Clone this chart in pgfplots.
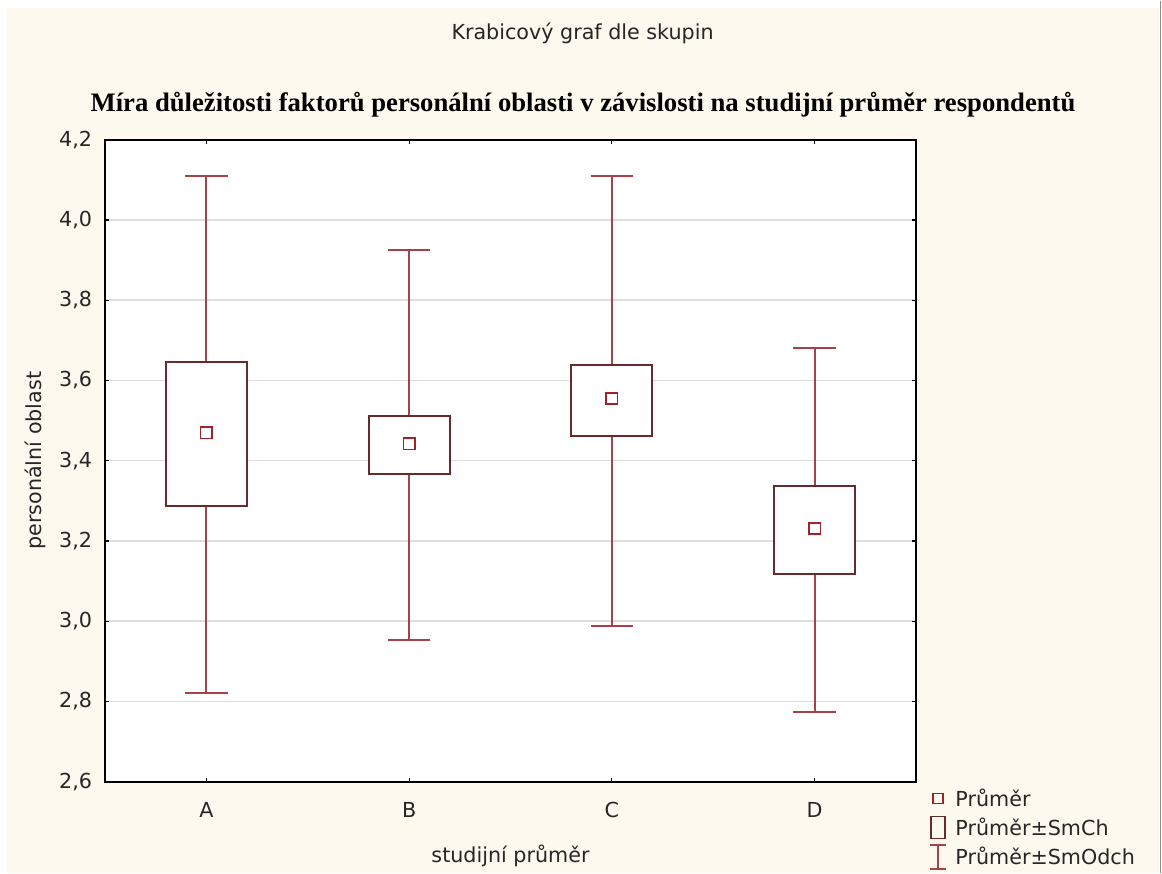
\documentclass[border=0pt]{standalone}
\usepackage{pgfplots}
\pgfplotsset{compat=1.18}
\usepgfplotslibrary{statistics}
\usepackage{fontspec}
\setmainfont{DejaVu Sans}
\newfontfamily\titlefont{Liberation Serif}

\definecolor{cream}{RGB}{254,249,238}
\definecolor{whiskcol}{RGB}{168,66,72}
\definecolor{boxcol}{RGB}{105,42,44}
\definecolor{meancol}{RGB}{160,35,40}
\definecolor{gridcol}{RGB}{222,222,222}

\newcommand{\lblfont}{\fontsize{15.5}{18}\selectfont}

\begin{document}
\begin{tikzpicture}
% page background (1 px = 0.75 pt)
\fill[white] (0,0) rectangle (871.5pt,654pt);
\fill[cream] (5.25pt,0) rectangle (869.25pt,648.75pt);
\draw[black!45, line width=1.1pt] (870.4pt,0) -- (870.4pt,654pt);

\node[font=\lblfont, text=black!85] at (436.9pt,629.25pt) {Krabicový graf dle skupin};
\node[font=\titlefont\bfseries\fontsize{20}{24}\selectfont] at (437.25pt,576pt)
  {Míra důležitosti faktorů personální oblasti v závislosti na studijní průměr respondentů};

\begin{axis}[
  at={(78.75pt,68.25pt)}, anchor=south west,
  scale only axis, width=608.25pt, height=481.5pt,
  xmin=-0.5, xmax=3.5, ymin=2.6, ymax=4.2,
  xtick={0,1,2,3}, xticklabels={A,B,C,D},
  ytick={2.6,2.8,3.0,3.2,3.4,3.6,3.8,4.0,4.2},
  /pgf/number format/use comma,
  /pgf/number format/fixed,
  /pgf/number format/fixed zerofill,
  /pgf/number format/precision=1,
  /pgf/number format/assume math mode=true,
  tick align=inside, major tick length=3pt,
  tick style={black, line width=0.9pt},
  axis line style={black, line width=1.2pt},
  axis background/.style={fill=white},
  ymajorgrids, grid style={gridcol, line width=1.1pt},
  tick label style={font=\lblfont, text=black!85},
  yticklabel style={anchor=east, inner sep=0pt, xshift=-9.5pt},
  xticklabel style={anchor=north, inner sep=0pt, yshift=-15pt},
  label style={font=\lblfont, text=black!85},
  xlabel={studijní průměr}, ylabel={personální oblast},
  xlabel style={at={(axis description cs:0.5,-0.115)}, anchor=center},
  ylabel style={at={(axis description cs:-0.0863,0.5)}, anchor=center},
  boxplot/draw direction=y,
  boxplot/draw/median/.code={},
  legend style={at={(axis description cs:1,0)}, anchor=north west,
    xshift=6.6pt, yshift=-1.1pt, draw=none, fill=none,
    font=\lblfont, text=black!85, row sep=3pt,
    /tikz/every odd column/.append style={column sep=4.5pt}},
  legend cell align=left,
]

% mean +/- SD (whiskers) and mean +/- SE (boxes)
\addplot[draw=whiskcol, line width=1.4pt, forget plot,
  boxplot/every box/.style={draw=boxcol, line width=1.4pt, fill=white},
  boxplot prepared={draw position=0, box extend=0.4, whisker extend=0.21,
    lower whisker=2.822, lower quartile=3.288, median=3.470,
    upper quartile=3.647, upper whisker=4.110}] coordinates {};
\addplot[draw=whiskcol, line width=1.4pt, forget plot,
  boxplot/every box/.style={draw=boxcol, line width=1.4pt, fill=white},
  boxplot prepared={draw position=1, box extend=0.4, whisker extend=0.21,
    lower whisker=2.954, lower quartile=3.368, median=3.442,
    upper quartile=3.512, upper whisker=3.926}] coordinates {};
\addplot[draw=whiskcol, line width=1.4pt, forget plot,
  boxplot/every box/.style={draw=boxcol, line width=1.4pt, fill=white},
  boxplot prepared={draw position=2, box extend=0.4, whisker extend=0.21,
    lower whisker=2.989, lower quartile=3.462, median=3.555,
    upper quartile=3.639, upper whisker=4.110}] coordinates {};
\addplot[draw=whiskcol, line width=1.4pt, forget plot,
  boxplot/every box/.style={draw=boxcol, line width=1.4pt, fill=white},
  boxplot prepared={draw position=3, box extend=0.4, whisker extend=0.21,
    lower whisker=2.774, lower quartile=3.118, median=3.231,
    upper quartile=3.338, upper whisker=3.682}] coordinates {};

% group means
\addplot[only marks, mark=square, mark size=4.3pt,
  mark options={draw=meancol, line width=1.2pt}, forget plot]
  coordinates {(0,3.470) (1,3.442) (2,3.555) (3,3.231)};

\addlegendimage{legend image code/.code={
  \draw[meancol, line width=1.2pt] (4.3pt,-3.7pt) rectangle (11.7pt,3.7pt);}}
\addlegendentry{Průměr}
\addlegendimage{legend image code/.code={
  \draw[boxcol, line width=1.3pt] (2.75pt,-8.25pt) rectangle (13.25pt,8.25pt);}}
\addlegendentry{Průměr±SmCh}
\addlegendimage{legend image code/.code={
  \draw[whiskcol, line width=1.3pt] (2pt,-9pt) -- (14pt,-9pt) (8pt,-9pt) -- (8pt,9pt) (2pt,9pt) -- (14pt,9pt);}}
\addlegendentry{Průměr±SmOdch}
\end{axis}
\end{tikzpicture}
\end{document}
